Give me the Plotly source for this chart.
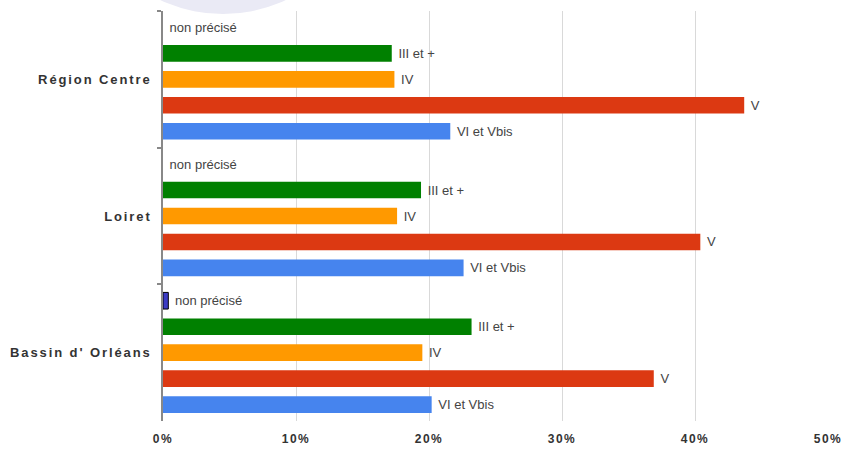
import plotly.graph_objects as go

categories = ["Région Centre", "Loiret", "Bassin d' Orléans"]
series_names = ["non précisé", "III et +", "IV", "V", "VI et Vbis"]
non_precise = [0.0, 0.0, 0.4]
iii_et_plus = [17.2, 19.4, 23.2]
iv = [17.4, 17.6, 19.5]
v = [43.7, 40.4, 36.9]
vi_et_vbis = [21.6, 22.6, 20.2]
x_tick_vals = [0, 10, 20, 30, 40, 50]
x_tick_text = ["0%", "10%", "20%", "30%", "40%", "50%"]

values = [non_precise, iii_et_plus, iv, v, vi_et_vbis]
colors = ["#3B3BC4", "#008000", "#FF9900", "#DC3912", "#4684EE"]

fig = go.Figure()
for name, vals, col in zip(series_names, values, colors):
    line_w = [1 if (name == "non précisé" and val > 0) else 0 for val in vals]
    fig.add_trace(go.Bar(
        y=categories, x=vals, name=name, orientation="h",
        marker=dict(color=col, line=dict(color="#000000", width=line_w)),
        text=[name] * len(vals), texttemplate="\u00a0%{text}", textposition="outside",
        textfont=dict(family="Arial, Liberation Sans, sans-serif", size=13, color="#444444"),
        constraintext="none", cliponaxis=False,
        hoverinfo="x+y+name",
    ))

fig.update_layout(
    width=851, height=454,
    margin=dict(l=163, r=23, t=11, b=33),
    paper_bgcolor="white", plot_bgcolor="white",
    barmode="group", bargap=0.05, bargroupgap=0.36,
    showlegend=False,
    font=dict(family="Arial, Liberation Sans, sans-serif"),
    shapes=[dict(
        type="circle", xref="paper", yref="paper",
        x0=-0.1323, x1=0.3128, y0=0.9927, y1=1.713,
        fillcolor="#EAEAF5", line=dict(width=0), layer="below",
    )],
)
fig.update_xaxes(
    range=[0, 50], tickvals=x_tick_vals, ticktext=x_tick_text,
    showgrid=True, gridcolor="#D9D9D9", gridwidth=1,
    zeroline=False, showline=False, ticks="",
    tickfont=dict(family="Arial, Liberation Sans, sans-serif", size=12, color="#333333", weight="bold"),
    ticklabelstandoff=9, automargin=False,
)
fig.update_yaxes(
    autorange="reversed", showgrid=False, zeroline=False,
    showline=True, linecolor="#888888", linewidth=1.5,
    ticks="outside", tickson="boundaries", ticklen=4, tickcolor="#888888", tickwidth=1.5,
    tickfont=dict(family="Arial, Liberation Sans, sans-serif", size=13, color="#333333", weight="bold"),
    ticklabelstandoff=7, automargin=False,
)

post = """
document.body.style.margin='0';
document.body.style.padding='0';
function sp(){
  document.querySelectorAll('.ytick text').forEach(function(t){t.style.letterSpacing='1.9px';});
  document.querySelectorAll('.xtick text').forEach(function(t){t.style.letterSpacing='1.5px';});
}
sp();
var gd=document.getElementsByClassName('plotly-graph-div')[0];
if(gd && gd.on){gd.on('plotly_afterplot', sp);}
"""
fig.write_html("out.html", post_script=post, config={"displayModeBar": False})
